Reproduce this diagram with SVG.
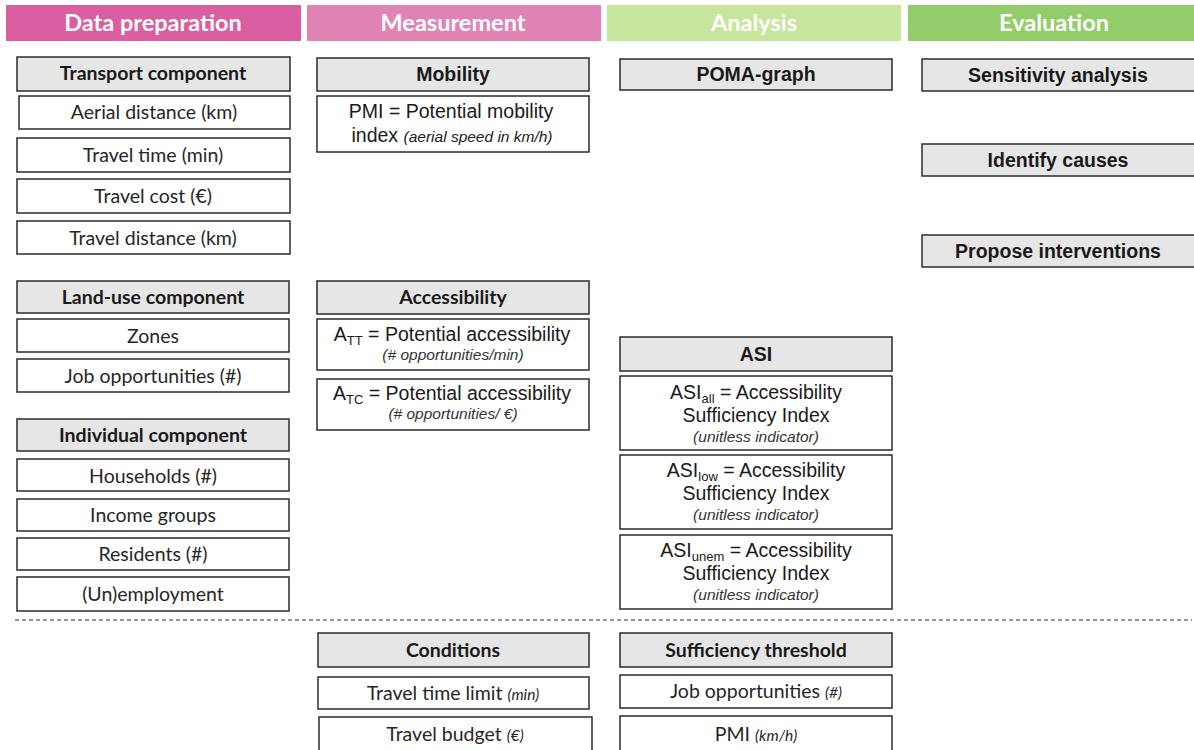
<svg xmlns="http://www.w3.org/2000/svg" width="1194" height="750" viewBox="0 0 1194 750">
<style>
.bg{fill:#ffffff}
.hdr{font-family:Lato,"Liberation Sans",sans-serif;font-weight:bold;font-size:23.5px;fill:#ffffff;text-anchor:middle}
.box{fill:#ffffff;stroke:#2b2b2b;stroke-width:1.5}
.gbox{fill:#e6e6e6;stroke:#2b2b2b;stroke-width:1.5}
.ct{font-family:Lato,"Liberation Sans",sans-serif;font-size:19.5px;fill:#262626;text-anchor:middle}
.cb{font-family:Lato,"Liberation Sans",sans-serif;font-size:19.5px;font-weight:bold;fill:#1a1a1a;text-anchor:middle}
.at{font-family:"Liberation Sans",Arial,sans-serif;font-size:19.5px;fill:#1a1a1a;text-anchor:middle}
.ab{font-family:"Liberation Sans",Arial,sans-serif;font-size:19.5px;font-weight:bold;fill:#1a1a1a;text-anchor:middle}
.ai{font-family:"Liberation Sans",Arial,sans-serif;font-size:15.5px;font-style:italic;fill:#333333;text-anchor:middle}
.sm{font-size:13px}
.ci{font-size:15.5px;font-style:italic}
.aci{font-size:15.5px;font-style:italic}
.dash{stroke:#777777;stroke-width:1.3;stroke-dasharray:4 3;fill:none}
</style>
<rect class="bg" x="0" y="0" width="1194" height="750"/>

<g id="headers">
  <rect x="6" y="5" width="295" height="36" fill="#da5fa0"/>
  <text class="hdr" x="153" y="31">Data preparation</text>
  <rect x="307" y="5" width="294" height="36" fill="#e084b6"/>
  <text class="hdr" x="453" y="31">Measurement</text>
  <rect x="607" y="5" width="294" height="36" fill="#c5e69b"/>
  <text class="hdr" x="754" y="31">Analysis</text>
  <rect x="908" y="5" width="286" height="36" fill="#93cd6b"/>
  <text class="hdr" x="1054" y="31">Evaluation</text>
</g>

<g id="connectors">
  <line class="dash" x1="15" y1="620" x2="1192" y2="620"/>
</g>

<g id="transport-component">
  <rect class="gbox" x="17" y="57" width="273" height="34"/>
  <text class="cb" x="153" y="80">Transport component</text>
</g>
<g id="aerial-distance">
  <rect class="box" x="19" y="96" width="271" height="33"/>
  <text class="ct" x="154" y="119">Aerial distance (km)</text>
</g>
<g id="travel-time">
  <rect class="box" x="17" y="138" width="273" height="34"/>
  <text class="ct" x="153" y="162">Travel time (min)</text>
</g>
<g id="travel-cost">
  <rect class="box" x="17" y="179" width="273" height="34"/>
  <text class="ct" x="153" y="203">Travel cost (€)</text>
</g>
<g id="travel-distance">
  <rect class="box" x="17" y="221" width="273" height="33"/>
  <text class="ct" x="153" y="245">Travel distance (km)</text>
</g>

<g id="land-use-component">
  <rect class="gbox" x="17" y="281" width="272" height="32"/>
  <text class="cb" x="153" y="304">Land-use component</text>
</g>
<g id="zones">
  <rect class="box" x="17" y="319" width="272" height="33"/>
  <text class="ct" x="153" y="343">Zones</text>
</g>
<g id="job-opportunities">
  <rect class="box" x="17" y="359" width="272" height="33"/>
  <text class="ct" x="153" y="383">Job opportunities (#)</text>
</g>

<g id="individual-component">
  <rect class="gbox" x="17" y="419" width="272" height="32"/>
  <text class="cb" x="153" y="442">Individual component</text>
</g>
<g id="households">
  <rect class="box" x="17" y="459" width="272" height="32"/>
  <text class="ct" x="153" y="483">Households (#)</text>
</g>
<g id="income-groups">
  <rect class="box" x="17" y="499" width="272" height="32"/>
  <text class="ct" x="153" y="522">Income groups</text>
</g>
<g id="residents">
  <rect class="box" x="17" y="538" width="272" height="32"/>
  <text class="ct" x="153" y="561">Residents (#)</text>
</g>
<g id="unemployment">
  <rect class="box" x="17" y="577" width="272" height="34"/>
  <text class="ct" x="153" y="601">(Un)employment</text>
</g>

<g id="mobility">
  <rect class="gbox" x="317" y="58" width="272" height="33"/>
  <text class="ab" x="453" y="81">Mobility</text>
</g>
<g id="pmi">
  <rect class="box" x="317" y="96" width="272" height="56"/>
  <text class="at" x="451" y="118">PMI = Potential mobility</text>
  <text class="at" x="452" y="142">index <tspan class="aci">(aerial speed in km/h)</tspan></text>
</g>

<g id="accessibility">
  <rect class="gbox" x="317" y="281" width="272" height="33"/>
  <text class="cb" x="453" y="304">Accessibility</text>
</g>
<g id="a-tt">
  <rect class="box" x="317" y="319" width="272" height="51"/>
  <text class="at" x="452" y="341">A<tspan class="sm" dy="4">TT</tspan><tspan dy="-4">  = Potential accessibility</tspan></text>
  <text class="ai" x="453" y="360">(# opportunities/min)</text>
</g>
<g id="a-tc">
  <rect class="box" x="317" y="379" width="272" height="51"/>
  <text class="at" x="452" y="400">A<tspan class="sm" dy="4">TC</tspan><tspan dy="-4"> = Potential accessibility</tspan></text>
  <text class="ai" x="453" y="419">(# opportunities/ €)</text>
</g>

<g id="conditions">
  <rect class="gbox" x="318" y="633" width="271" height="34"/>
  <text class="cb" x="453" y="657">Conditions</text>
</g>
<g id="travel-time-limit">
  <rect class="box" x="318" y="677" width="271" height="32"/>
  <text class="ct" x="453" y="700">Travel time limit <tspan class="ci">(min)</tspan></text>
</g>
<g id="travel-budget">
  <rect class="box" x="319" y="717" width="273" height="40"/>
  <text class="ct" x="455" y="741">Travel budget <tspan class="ci">(€)</tspan></text>
</g>

<g id="poma-graph">
  <rect class="gbox" x="620" y="59" width="272" height="31"/>
  <text class="ab" x="756" y="81">POMA-graph</text>
</g>

<g id="asi">
  <rect class="gbox" x="620" y="337" width="272" height="34"/>
  <text class="ab" x="756" y="361">ASI</text>
</g>
<g id="asi-all">
  <rect class="box" x="620" y="376" width="272" height="74"/>
  <text class="at" x="756" y="399">ASI<tspan class="sm" dy="4">all</tspan><tspan dy="-4">  = Accessibility</tspan></text>
  <text class="at" x="756" y="422">Sufficiency Index</text>
  <text class="ai" x="756" y="442">(unitless indicator)</text>
</g>
<g id="asi-low">
  <rect class="box" x="620" y="455" width="272" height="74"/>
  <text class="at" x="756" y="477">ASI<tspan class="sm" dy="4">low</tspan><tspan dy="-4">  = Accessibility</tspan></text>
  <text class="at" x="756" y="500">Sufficiency Index</text>
  <text class="ai" x="756" y="520">(unitless indicator)</text>
</g>
<g id="asi-unem">
  <rect class="box" x="620" y="535" width="272" height="74"/>
  <text class="at" x="756" y="557">ASI<tspan class="sm" dy="4">unem</tspan><tspan dy="-4"> = Accessibility</tspan></text>
  <text class="at" x="756" y="580">Sufficiency Index</text>
  <text class="ai" x="756" y="600">(unitless indicator)</text>
</g>

<g id="sufficiency-threshold">
  <rect class="gbox" x="620" y="633" width="272" height="34"/>
  <text class="cb" x="756" y="657">Sufficiency threshold</text>
</g>
<g id="threshold-jobs">
  <rect class="box" x="620" y="675" width="272" height="33"/>
  <text class="ct" x="756" y="698">Job opportunities <tspan class="ci">(#)</tspan></text>
</g>
<g id="threshold-pmi">
  <rect class="box" x="620" y="716" width="272" height="40"/>
  <text class="ct" x="756" y="741">PMI <tspan class="ci">(km/h)</tspan></text>
</g>

<g id="sensitivity-analysis">
  <rect class="gbox" x="922" y="59" width="280" height="32"/>
  <text class="ab" x="1058" y="82">Sensitivity analysis</text>
</g>
<g id="identify-causes">
  <rect class="gbox" x="922" y="144" width="280" height="32"/>
  <text class="ab" x="1058" y="167">Identify causes</text>
</g>
<g id="propose-interventions">
  <rect class="gbox" x="922" y="235" width="280" height="32"/>
  <text class="ab" x="1058" y="258">Propose interventions</text>
</g>
</svg>
